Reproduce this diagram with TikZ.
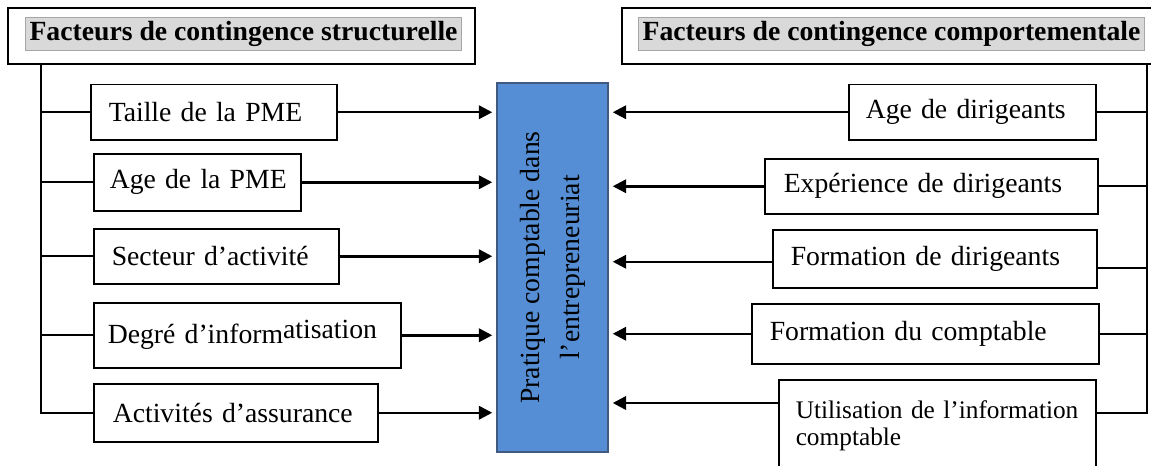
\documentclass[tikz,border=0pt]{standalone}
\usepackage{fontspec}
\setmainfont{Liberation Serif}
\usepackage{tikz}
\usetikzlibrary{arrows.meta,calc,positioning}
\newlength\px
\setlength\px{0.025cm}
\definecolor{boxblue}{RGB}{85,142,213}
\definecolor{boxedge}{RGB}{65,90,130}
\definecolor{headgray}{RGB}{217,217,217}

\begin{document}
\begin{tikzpicture}[x=0.025cm,y=-0.025cm,
  every node/.style={font=\fontsize{19.7}{23}\selectfont},
  head/.style={draw,line width=1.5\px,minimum height=56\px,inner sep=0pt},
  headlbl/.style={fill=headgray,draw=gray!70,font=\fontsize{19.7}{23}\selectfont\bfseries,inner xsep=4\px,inner ysep=0pt,minimum height=33\px},
  factor/.style={draw,line width=1.5\px,anchor=north west,align=left,inner ysep=0pt},
  centre/.style={draw=boxedge,fill=boxblue,line width=1.5\px,inner sep=0pt},
  link/.style={line width=2\px},
  flow/.style={line width=2.5\px,-{Triangle[length=9.5pt,width=9.5pt]},shorten >=4\px}]
\useasboundingbox (0,0) rectangle (1151,466);
\node[head,minimum width=467\px] (hl) at (241.5,36) {};
\node[headlbl] (hltxt) at (243.5,33.5) {Facteurs de contingence structurelle};
\node[head,minimum width=540\px] (hr) at (892,36) {};
\node[headlbl] (hrtxt) at (891.5,33.5) {Facteurs de contingence comportementale};
\node[centre,minimum width=111\px,minimum height=369\px] (prat) at (552.5,267.5) {};
\node[rotate=90,align=center,font=\fontsize{19.7}{28.4}\selectfont] (pratlbl) at (prat.center) {Pratique comptable dans\\l’entrepreneuriat};
\node[factor,minimum width=246\px,minimum height=55\px,text width=210\px,inner xsep=18\px] (taille) at (90,84) {\mbox{Taille de la PME}};
\node[factor,minimum width=207\px,minimum height=57\px,text width=175\px,inner xsep=16\px] (agepme) at (93,153) {\mbox{Age de la PME}};
\node[factor,minimum width=245\px,minimum height=55\px,text width=209\px,inner xsep=18\px] (secteur) at (93,228) {\mbox{Secteur d’activité}};
\node[factor,minimum width=307\px,minimum height=65\px,text width=279\px,inner xsep=14\px] (degre) at (93,302) {\mbox{Degré d’inform\raisebox{5\px}{atisation}}};
\node[factor,minimum width=284\px,minimum height=58\px,text width=246\px,inner xsep=19\px] (act) at (93,383) {\mbox{Activités d’assurance}};
\node[factor,minimum width=247\px,minimum height=55\px,text width=213\px,inner xsep=17\px] (agedir) at (848,84) {\mbox{Age de dirigeants}};
\node[factor,minimum width=333\px,minimum height=55\px,text width=295\px,inner xsep=19\px] (exp) at (764,158) {\mbox{Expérience de dirigeants}};
\node[factor,minimum width=324\px,minimum height=58\px,text width=288\px,inner xsep=18\px] (formdir) at (772,229) {\mbox{Formation de dirigeants}};
\node[factor,minimum width=347\px,minimum height=60\px,text width=311\px,inner xsep=18\px] (formcpt) at (751,303) {\mbox{Formation du comptable}};
\node[factor,minimum width=317\px,text width=283\px,inner xsep=17\px,inner ysep=21\px,font=\fontsize{18}{19.1}\selectfont] (util) at (778,379) {\mbox{Utilisation de l’information}\\comptable\\\mbox{}};
\coordinate (ltop) at (41,64);
\coordinate (rtop) at (1147,64);
\draw[link] (ltop) -- (ltop |- act.west) -- (act.west);
\foreach \b in {taille,agepme,secteur,degre} \draw[link] (ltop |- \b.west) -- (\b.west);
\foreach \b in {taille,agepme,secteur,degre,act} \draw[flow] (\b.east) -- (\b.east -| prat.west);
\draw[link] (rtop) -- ([yshift=-34\px]util.north east -| rtop) -- ([yshift=-34\px]util.north east);
\foreach \b in {agedir,exp,formcpt} \draw[link] (\b.east) -- (\b.east -| rtop);
\draw[link] ([yshift=-9\px]formdir.east) -- ([yshift=-9\px]formdir.east -| rtop);
\foreach \b in {agedir,exp,formcpt} \draw[flow] (\b.west) -- (\b.west -| prat.east);
\draw[flow] ([yshift=-3\px]formdir.west) -- ([yshift=-3\px]formdir.west -| prat.east);
\draw[flow] ([yshift=-24\px]util.north west) -- ([yshift=-24\px]util.north west -| prat.east);
\end{tikzpicture}
\end{document}
